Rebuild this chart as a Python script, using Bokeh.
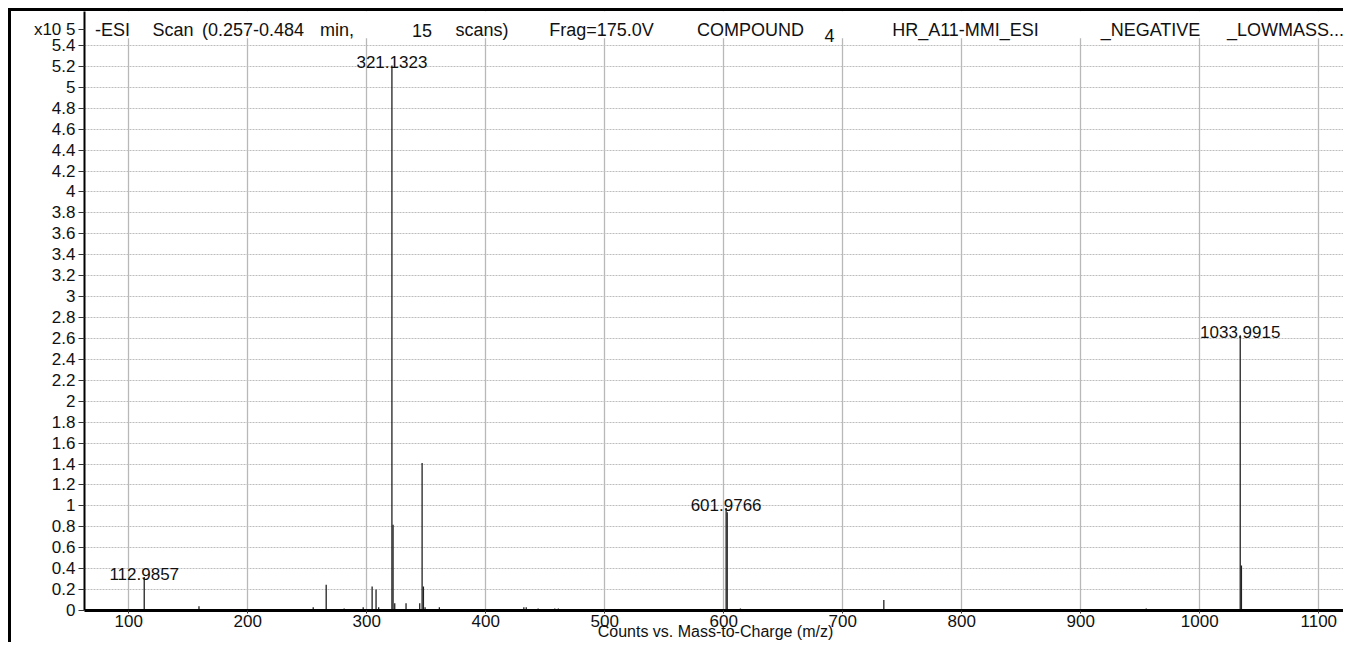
from bokeh.plotting import figure
from bokeh.models import FixedTicker, CustomJSTickFormatter
from bokeh.core.properties import value
from bokeh.embed import file_html
from bokeh.resources import INLINE

# ---- data (intensity in units of x10^5 counts) ----
mz = [112.9857, 159.0, 255.0, 265.9, 281.0, 297.0, 304.5, 307.8, 310.0,
      321.1323, 322.1, 323.5, 333.0, 344.5, 346.5, 347.6, 349.0, 361.0,
      432.0, 434.0, 444.0, 458.0, 461.0, 601.9766, 602.9, 614.0, 734.5,
      955.0, 977.0, 1033.9915, 1035.0]
intensity = [0.32, 0.04, 0.03, 0.245, 0.02, 0.03, 0.23, 0.20, 0.03,
             5.21, 0.82, 0.07, 0.07, 0.07, 1.41, 0.23, 0.03, 0.03,
             0.03, 0.03, 0.02, 0.02, 0.02, 0.98, 0.94, 0.02, 0.10,
             0.02, 0.015, 2.63, 0.43]

label_mz = [112.9857, 321.1323, 601.9766, 1033.9915]
label_int = [0.32, 5.21, 0.98, 2.63]
label_text = ["112.9857", "321.1323", "601.9766", "1033.9915"]

x_ticks = [100, 200, 300, 400, 500, 600, 700, 800, 900, 1000, 1100]
y_ticks = [round(i * 0.2, 1) for i in range(28)]
exponent_label = "x10 5"

title_words = ["-ESI", "Scan", "(0.257-0.484", "min,", "15", "scans)",
               "Frag=175.0V", "COMPOUND", "4", "HR_A11-MMI_ESI",
               "_NEGATIVE", "_LOWMASS..."]
axis_title = "Counts vs. Mass-to-Charge (m/z)"

# ---- layout helpers (reference pixel -> data) ----
X0, X1 = 62.8, 1123.3
Y0, Y1 = 0.0, 5.725
PXX = 1.19      # px per m/z unit
PXY = 104.6     # px per 1e5 counts
EXP_TICK = 5.55  # where the exponent label sits on the y axis


def px_x(px):
    return X0 + (px - 84) / PXX


def px_y(py):
    return (610 - py) / PXY


FONT_NAME = "Liberation Sans"
FONT = value(FONT_NAME)
INK = "#111111"

p = figure(width=1335, height=634, x_range=(X0, X1), y_range=(Y0, Y1),
           output_backend="svg", toolbar_location=None,
           min_border_left=73, min_border_right=0, min_border_top=0,
           min_border_bottom=35)
p.styles = {"margin-left": "8px", "margin-top": "8px",
            "border-left": "3px solid black", "border-top": "3px solid black"}
p.outline_line_color = None
p.background_fill_color = "white"
p.border_fill_color = "white"

# grids
p.xgrid.ticker = FixedTicker(ticks=x_ticks)
p.ygrid.ticker = FixedTicker(ticks=y_ticks)
p.xgrid.grid_line_color = "#b8b8b8"
p.xgrid.grid_line_width = 1.3
p.ygrid.grid_line_color = "#bdbdbd"
p.ygrid.grid_line_width = 1
p.ygrid.grid_line_dash = "2 1"

# axes
p.xaxis.ticker = FixedTicker(ticks=x_ticks)
p.yaxis.ticker = FixedTicker(ticks=y_ticks + [EXP_TICK])
p.yaxis.formatter = CustomJSTickFormatter(
    args=dict(exp_label=exponent_label, exp_tick=EXP_TICK),
    code="if (Math.abs(tick - exp_tick) < 1e-6) { return exp_label; }"
         " return tick.toFixed(1).replace(/\\.0$/, '');")
for ax in (p.xaxis[0], p.yaxis[0]):
    ax.axis_line_color = "black"
    ax.major_tick_line_color = "#333333"
    ax.minor_tick_line_color = None
    ax.major_tick_in = 0
    ax.major_label_text_font = FONT_NAME
    ax.major_label_text_color = INK
p.xaxis.axis_line_width = 3
p.yaxis.axis_line_width = 2
p.xaxis.major_tick_out = 3
p.yaxis.major_tick_out = 6
p.xaxis.major_label_standoff = 1
p.yaxis.major_label_standoff = 3
p.xaxis.major_label_text_font_size = "17px"
p.yaxis.major_label_text_font_size = "17px"

p.xaxis.axis_label = axis_title
p.xaxis.axis_label_text_font = FONT_NAME
p.xaxis.axis_label_text_font_size = "16px"
p.xaxis.axis_label_text_font_style = "normal"
p.xaxis.axis_label_text_color = INK
p.xaxis.axis_label_standoff = -7

# header band (covers grid in title zone)
p.quad(left=X0, right=X1, bottom=px_y(38), top=Y1,
       fill_color="white", line_color=None)

# peaks
p.segment(x0=mz, y0=[0] * len(mz), x1=mz, y1=intensity,
          line_color="#222222", line_width=1.3)

# peak labels
p.text(x=label_mz, y=label_int, text=label_text, text_align="center",
       text_baseline="alphabetic", y_offset=-3, text_font=FONT,
       text_font_size="17px", text_color=INK)

# title words (centre positions in reference px, baseline px)
title_cx = [112, 172.5, 252.5, 336.5, 421.5, 481.5, 601, 750, 829, 965, 1150, 1285]
title_by = [30, 30, 30, 30, 30, 30, 30, 30, 35, 30, 30, 30]
p.text(x=[px_x(v) for v in title_cx], y=[px_y(v) for v in title_by],
       text=title_words, text_align="center", text_baseline="alphabetic",
       text_font=FONT, text_font_size="18px", text_color=INK)

open("out.html", "w").write(file_html(p, INLINE))
